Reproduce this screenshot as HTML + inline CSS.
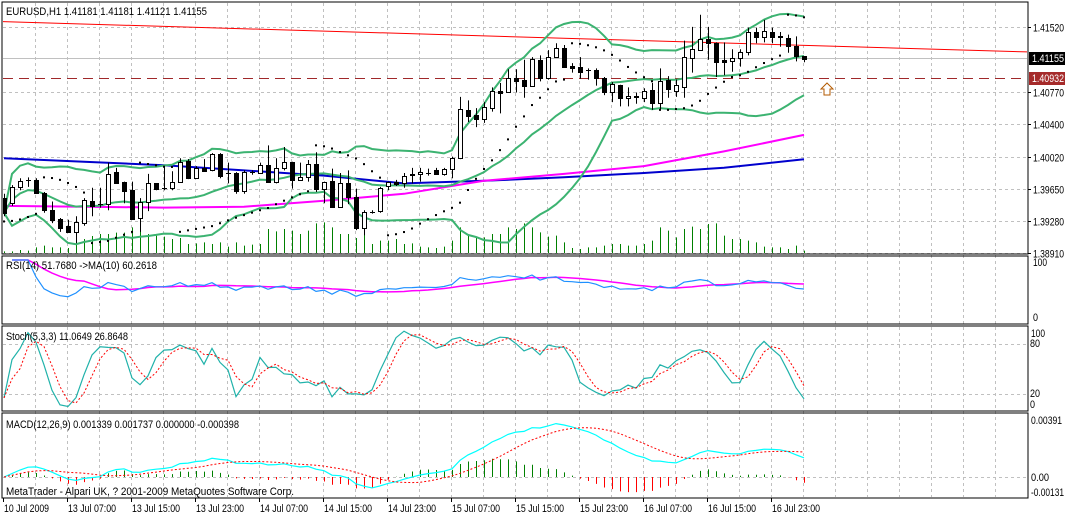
<!DOCTYPE html>
<html><head><meta charset="utf-8"><title>EURUSD,H1</title>
<style>
html,body{margin:0;padding:0;background:#fff;}
svg{display:block;font-family:"Liberation Sans",sans-serif;font-size:11px;}
</style></head>
<body>
<svg id="chart" width="1065" height="516" viewBox="0 0 1065 516" xmlns="http://www.w3.org/2000/svg">
<rect x="0" y="0" width="1065" height="516" fill="#fff"/>
<defs>
<clipPath id="cMain"><rect x="3" y="3" width="1024" height="250"/></clipPath>
<clipPath id="cRsi"><rect x="3" y="257" width="1024" height="66"/></clipPath>
<clipPath id="cSto"><rect x="3" y="327" width="1024" height="83"/></clipPath>
<clipPath id="cMacd"><rect x="3" y="414" width="1024" height="83"/></clipPath>
</defs>
<g id="grid"></g>
<g id="main" clip-path="url(#cMain)"></g>
<g id="rsi" clip-path="url(#cRsi)"></g>
<g id="sto" clip-path="url(#cSto)"></g>
<g id="macd" clip-path="url(#cMacd)"></g>
<g id="frame">
<rect x="2" y="2" width="1026" height="252" fill="none" stroke="#000"/>
<rect x="2" y="256" width="1026" height="68" fill="none" stroke="#000"/>
<rect x="2" y="326" width="1026" height="85" fill="none" stroke="#000"/>
<rect x="2" y="413" width="1026" height="85" fill="none" stroke="#000"/>
</g>
<g id="axes"></g>
<text x="6" y="15" textLength="201" lengthAdjust="spacingAndGlyphs">EURUSD,H1  1.41181 1.41181 1.41121 1.41155</text>
<text x="6" y="269" textLength="151" lengthAdjust="spacingAndGlyphs">RSI(14) 51.7680  -&gt;MA(10) 60.2618</text>
<text x="6" y="340" textLength="122" lengthAdjust="spacingAndGlyphs">Stoch(5,3,3) 11.0649 26.8648</text>
<text x="6" y="428" textLength="233" lengthAdjust="spacingAndGlyphs">MACD(12,26,9) 0.001339 0.001737 0.000000 -0.000398</text>
<text x="6" y="495" textLength="288" lengthAdjust="spacingAndGlyphs">MetaTrader - Alpari UK, ? 2001-2009 MetaQuotes Software Corp.</text>
<polygon points="827,83 833,89 830,89 830,95 824,95 824,89 821,89" fill="#fff" stroke="#b35a00"/>
</svg>
<script>
const opens=[1.3954,1.3948,1.3967,1.3975,1.3975,1.3960,1.3940,1.3930,1.3922,1.3915,
1.3925,1.3951,1.3947,1.3947,1.3984,1.3973,1.3963,1.3931,1.3950,1.3971,
1.3966,1.3966,1.3973,1.3997,1.3977,1.3989,1.3986,1.4005,1.3983,1.3983,
1.3962,1.3984,1.3983,1.3992,1.3973,1.3989,1.3996,1.3975,1.3978,1.3993,
1.3965,1.3974,1.3944,1.3971,1.3955,1.3919,1.3938,1.3939,1.3968,1.3973,
1.3971,1.3982,1.3982,1.3983,1.3986,1.3982,1.3988,1.4000,1.4056,1.4050,
1.4045,1.4058,1.4078,1.4077,1.4093,1.4091,1.4084,1.4114,1.4093,1.4117,
1.4128,1.4107,1.4106,1.4102,1.4102,1.4093,1.4077,1.4085,1.4070,1.4072,
1.4070,1.4079,1.4064,1.4091,1.4078,1.4082,1.4116,1.4125,1.4138,1.4133,
1.4114,1.4112,1.4116,1.4123,1.4146,1.4140,1.4146,1.4141,1.4139,1.4130,
1.4118];
const highs=[1.3959,1.3969,1.3977,1.3978,1.3977,1.3961,1.3950,1.3931,1.3929,1.3933,
1.3954,1.3966,1.3966,1.3995,1.3989,1.3973,1.3973,1.3954,1.3982,1.3971,
1.3990,1.3985,1.4000,1.3999,1.3991,1.3999,1.4006,1.4006,1.3995,1.3984,
1.3986,1.3986,1.3995,1.4015,1.4000,1.4013,1.3996,1.3995,1.3998,1.4007,
1.3973,1.3988,1.3983,1.3986,1.3965,1.3940,1.3940,1.3967,1.3973,1.3975,
1.3983,1.3989,1.3989,1.3988,1.3989,1.3989,1.4002,1.4071,1.4067,1.4058,
1.4065,1.4082,1.4087,1.4103,1.4103,1.4114,1.4117,1.4119,1.4125,1.4133,
1.4131,1.4110,1.4117,1.4104,1.4104,1.4094,1.4088,1.4085,1.4082,1.4076,
1.4081,1.4087,1.4104,1.4095,1.4091,1.4136,1.4152,1.4166,1.4152,1.4134,
1.4134,1.4126,1.4126,1.4151,1.4151,1.4160,1.4151,1.4146,1.4143,1.4141,
1.4118];
const lows=[1.3933,1.3945,1.3963,1.3967,1.3960,1.3937,1.3925,1.3915,1.3914,1.3902,
1.3922,1.3933,1.3943,1.3940,1.3971,1.3948,1.3929,1.3915,1.3939,1.3963,
1.3963,1.3963,1.3973,1.3976,1.3977,1.3985,1.3985,1.3977,1.3971,1.3959,
1.3959,1.3981,1.3983,1.3973,1.3971,1.3986,1.3965,1.3975,1.3973,1.3961,
1.3948,1.3944,1.3944,1.3947,1.3917,1.3911,1.3936,1.3937,1.3963,1.3968,
1.3966,1.3971,1.3973,1.3980,1.3981,1.3980,1.3977,1.3999,1.4042,1.4036,
1.4041,1.4054,1.4052,1.4076,1.4076,1.4070,1.4084,1.4089,1.4091,1.4117,
1.4106,1.4099,1.4092,1.4091,1.4084,1.4073,1.4065,1.4060,1.4060,1.4063,
1.4065,1.4056,1.4057,1.4070,1.4071,1.4070,1.4099,1.4124,1.4114,1.4094,
1.4096,1.4100,1.4106,1.4119,1.4133,1.4134,1.4133,1.4129,1.4122,1.4112,
1.4111];
const closes=[1.3937,1.3967,1.3974,1.3975,1.3960,1.3940,1.3929,1.3919,1.3915,1.3926,
1.3952,1.3945,1.3947,1.3982,1.3971,1.3962,1.3930,1.3950,1.3971,1.3965,
1.3966,1.3973,1.3996,1.3977,1.3989,1.3985,1.4005,1.3980,1.3983,1.3962,
1.3984,1.3984,1.3992,1.3973,1.3989,1.3996,1.3975,1.3978,1.3993,1.3965,
1.3973,1.3944,1.3971,1.3955,1.3919,1.3938,1.3938,1.3966,1.3973,1.3970,
1.3980,1.3981,1.3984,1.3983,1.3982,1.3988,1.4000,1.4057,1.4049,1.4045,
1.4059,1.4078,1.4076,1.4093,1.4089,1.4084,1.4115,1.4093,1.4117,1.4128,
1.4106,1.4104,1.4100,1.4102,1.4093,1.4077,1.4086,1.4070,1.4072,1.4071,
1.4078,1.4064,1.4089,1.4080,1.4085,1.4117,1.4126,1.4138,1.4133,1.4111,
1.4111,1.4116,1.4123,1.4146,1.4140,1.4147,1.4140,1.4140,1.4130,1.4118,
1.4115];
const volumes=[50,50,90,70,170,220,170,170,150,570,
420,510,570,570,610,610,770,690,570,520,
490,420,450,270,290,320,270,320,190,320,
220,250,270,720,650,720,670,570,670,890,
920,770,570,570,450,570,270,370,370,420,
270,290,190,170,150,190,370,770,570,450,
470,570,570,770,720,890,770,620,490,520,
320,150,120,170,170,220,270,270,220,220,
270,370,770,670,470,720,790,720,870,890,
520,420,420,370,320,190,170,170,120,220,
70];
const maBars=[0,10,20,30,40,50,60,70,80,90,100];
const maBlue=[1.4000,1.3996,1.3992,1.3986,1.3980,1.3971,1.3974,1.3978,1.3983,1.3989,1.3999];
const maMagenta=[1.3945,1.3944,1.3943,1.3944,1.3951,1.3959,1.3974,1.3982,1.3991,1.4008,1.4027];
const trendBars=[-0.2,127.9];
const trendPrices=[1.4158,1.4123];
const levelPrice=1.40932;
const bidPrice=1.41155;
const priceTicks=[1.41520,1.40770,1.40400,1.40020,1.39650,1.39280,1.38910];
const timeLabels=["10 Jul 2009","13 Jul 07:00","13 Jul 15:00","13 Jul 23:00","14 Jul 07:00","14 Jul 15:00","14 Jul 23:00","15 Jul 07:00","15 Jul 15:00","15 Jul 23:00","16 Jul 07:00","16 Jul 15:00","16 Jul 23:00"];
const timeLabelBars=[0,8,16,24,32,40,48,56,64,72,80,88,96];

const NS="http://www.w3.org/2000/svg";
function mk(parent,tag,attrs){const e=document.createElementNS(NS,tag);for(const k in attrs)e.setAttribute(k,attrs[k]);parent.appendChild(e);return e;}
const gGrid=document.getElementById('grid'),gMain=document.getElementById('main'),gRsi=document.getElementById('rsi'),gSto=document.getElementById('sto'),gMacd=document.getElementById('macd'),gAx=document.getElementById('axes');
function px(i){return 4+8*i;}
function py(p){return (1.4183-p)/0.0001156;}
function rsiY(v){return 320-v*0.6;}
function stoY(v){return 410.7-v*0.8333;}
function macdY(v){return 477-v*14578;}
const N=closes.length;
function pts(arr,fy,start){let s=[];for(let i=start||0;i<arr.length;i++){if(arr[i]==null)continue;s.push(px(i)+','+fy(arr[i]).toFixed(1));}return s.join(' ');}
function fit(t,len){t.setAttribute('textLength',len);t.setAttribute('lengthAdjust','spacingAndGlyphs');}

// grid
for(let i=4;i<128;i+=4){const x=px(i)-1;if(x>1027)break;
 const l=mk(gGrid,'line',{x1:x+0.5,y1:3,x2:x+0.5,y2:497,stroke:'#c0c0c0','stroke-dasharray':'3,3'});
 
 }
priceTicks.forEach(p=>{const y=Math.round(py(p))+0.5;
 const l=mk(gGrid,'line',{x1:3,y1:y,x2:1027,y2:y,stroke:'#c0c0c0','stroke-dasharray':'3,3'});
 
 
 const t=mk(gAx,'text',{x:1033,y:y+4});t.textContent=p.toFixed(5);fit(t,31);
 
 
 const tk=mk(gAx,'line',{x1:1028,y1:y,x2:1031,y2:y,stroke:'#000'});
 
 });
[80,20].forEach(v=>{const y=Math.round(stoY(v))+0.5;
 const l=mk(gGrid,'line',{x1:3,y1:y,x2:1027,y2:y,stroke:'#c0c0c0','stroke-dasharray':'3,3'});
 
 });
{const l=mk(gGrid,'line',{x1:3,y1:477.5,x2:1027,y2:477.5,stroke:'#c0c0c0','stroke-dasharray':'3,3'});
 
 }
{const y=Math.round(py(bidPrice))+0.5;const l=mk(gGrid,'line',{x1:3,y1:y,x2:1027,y2:y,stroke:'#c0c0c0'});
 
 }

// volumes
for(let i=0;i<N;i++){const x=px(i)+0.5;
 const l=mk(gMain,'line',{x1:x,y1:253,x2:x,y2:253-volumes[i]/30,stroke:'#008000'});
 
 }

{const y=Math.round(py(levelPrice))+0.5;const l=mk(gMain,'line',{x1:3,y1:y,x2:1027,y2:y,stroke:'#a0282a','stroke-dasharray':'10,6'});
 
 }
{const l=mk(gMain,'line',{x1:px(trendBars[0]),y1:py(trendPrices[0]),x2:px(trendBars[1]),y2:py(trendPrices[1]),stroke:'#ff0000'});
 
 }
{const s=maBars.map((b,k)=>px(b)+','+py(maBlue[k]).toFixed(1)).join(' ');
 const l=mk(gMain,'polyline',{points:s,fill:'none',stroke:'#0000cd','stroke-width':2});
 
 }
{const s=maBars.map((b,k)=>px(b)+','+py(maMagenta[k]).toFixed(1)).join(' ');
 const l=mk(gMain,'polyline',{points:s,fill:'none',stroke:'#ff00ff','stroke-width':2});
 
 }
const bbU=[],bbM=[],bbL=[];
for(let i=0;i<N;i++){const w=closes.slice(Math.max(0,i-19),i+1);const m=w.reduce((a,b)=>a+b,0)/w.length;
 const sd=Math.sqrt(w.reduce((a,b)=>a+(b-m)*(b-m),0)/w.length);bbM.push(m);bbU.push(m+2*sd);bbL.push(m-2*sd);}
[[bbU,'bollinger-upper'],[bbM,'bollinger-middle'],[bbL,'bollinger-lower']].forEach(([a,n])=>{
 const l=mk(gMain,'polyline',{points:pts(a,py),fill:'none',stroke:'#3cb371','stroke-width':2});
 
 });
{let up=true,sar=lows[0]-0.0006,ep=highs[0],af=0.02;const sars=[sar];
 for(let i=1;i<N;i++){sar=sar+af*(ep-sar);
  if(up){sar=Math.min(sar,lows[i-1],lows[Math.max(0,i-2)]);
   if(lows[i]<sar){up=false;sar=ep;ep=lows[i];af=0.02;}else if(highs[i]>ep){ep=highs[i];af=Math.min(af+0.02,0.2);}}
  else{sar=Math.max(sar,highs[i-1],highs[Math.max(0,i-2)]);
   if(highs[i]>sar){up=true;sar=ep;ep=highs[i];af=0.02;}else if(lows[i]<ep){ep=lows[i];af=Math.min(af+0.02,0.2);}}
  sars.push(sar);}
 sars.forEach((s,i)=>{const d=mk(gMain,'rect',{x:px(i)-1,y:py(s)-1,width:2,height:2,fill:'#000'});
  
  });}
for(let i=0;i<N;i++){const x=px(i);const o=opens[i],c=closes[i];
 const w=mk(gMain,'line',{x1:x+0.5,y1:py(highs[i]),x2:x+0.5,y2:py(lows[i]),stroke:'#000'});
 
 
 const top=Math.round(py(Math.max(o,c))),bot=Math.round(py(Math.min(o,c)));
 let b;
 if(bot-top<1){b=mk(gMain,'line',{x1:x-2,y1:top+0.5,x2:x+3,y2:top+0.5,stroke:'#000'});}
 else if(c>=o){b=mk(gMain,'rect',{x:x-1.5,y:top+0.5,width:4,height:bot-top,fill:'#fff',stroke:'#000'});}
 else{b=mk(gMain,'rect',{x:x-2,y:top,width:5,height:bot-top+1,fill:'#000'});}
 
 }

const rsi=[null];{let ag=0,al=0;
 for(let i=1;i<N;i++){const d=closes[i]-closes[i-1];const g=Math.max(d,0),l=Math.max(-d,0);const n=Math.min(i,14);
  ag=(ag*(n-1)+g)/n;al=(al*(n-1)+l)/n;rsi.push(al===0?100:100-100/(1+ag/al));}}
const rsiMa=rsi.map((v,i)=>{if(i<1)return null;const w=rsi.slice(Math.max(1,i-9),i+1);return w.reduce((a,b)=>a+b,0)/w.length;});
{const l=mk(gRsi,'polyline',{points:pts(rsiMa,rsiY,1),fill:'none',stroke:'#ff00ff','stroke-width':1.5});
 
 }
{const l=mk(gRsi,'polyline',{points:pts(rsi,rsiY,1),fill:'none',stroke:'#1e90ff','stroke-width':1.2});
 
 }

const stK=[],stD=[];
{const num=[],den=[];for(let i=0;i<N;i++){const a=Math.max(0,i-4);const hh=Math.max(...highs.slice(a,i+1)),ll=Math.min(...lows.slice(a,i+1));num.push(closes[i]-ll);den.push(hh-ll);}
 for(let i=0;i<N;i++){const a=Math.max(0,i-2);let sn=0,sd=0;for(let j=a;j<=i;j++){sn+=num[j];sd+=den[j];}stK.push(sd===0?50:100*sn/sd);}
 for(let i=0;i<N;i++){const w=stK.slice(Math.max(0,i-2),i+1);stD.push(w.reduce((a,b)=>a+b,0)/w.length);}}
{const l=mk(gSto,'polyline',{points:pts(stK,stoY),fill:'none',stroke:'#20b2aa','stroke-width':1.2});
 
 }
{const l=mk(gSto,'polyline',{points:pts(stD,stoY),fill:'none',stroke:'#ff0000','stroke-dasharray':'2,2'});
 
 }

const macd=[],sig=[];
{let e12=closes[0],e26=closes[0];for(let i=0;i<N;i++){e12=e12+(2/13)*(closes[i]-e12);e26=e26+(2/27)*(closes[i]-e26);macd.push(e12-e26);}
 for(let i=0;i<N;i++){const w=macd.slice(Math.max(0,i-8),i+1);sig.push(w.reduce((a,b)=>a+b,0)/w.length);}}
for(let i=0;i<N;i++){const h=macd[i]-sig[i];const x=px(i)+0.5;
 const l=mk(gMacd,'line',{x1:x,y1:477,x2:x,y2:macdY(h),stroke:h>=0?'#008000':'#ff0000'});
 
 }
{const l=mk(gMacd,'polyline',{points:pts(macd,macdY),fill:'none',stroke:'#00ffff','stroke-width':1.2});
 
 }
{const l=mk(gMacd,'polyline',{points:pts(sig,macdY),fill:'none',stroke:'#ff0000','stroke-dasharray':'2,2'});
 
 }

[[1033,266,'100','rsi-max-label',14],[1033,321,'0','rsi-min-label',5],[1031,337,'100','stoch-max-label',14],[1030,347,'80','stoch-80-label',10],[1030,397,'20','stoch-20-label',10],[1030,408,'0','stoch-min-label',5],[1031,424,'0.00391','macd-max-label',31],[1031,481,'0.00','macd-zero-label',18],[1031,496,'-0.00131','macd-min-label',33]].forEach(a=>{
 const t=mk(gAx,'text',{x:a[0],y:a[1]});t.textContent=a[2];fit(t,a[4]);
 
 });
{const y=Math.round(py(bidPrice));const r=mk(gAx,'rect',{x:1029,y:y-6,width:36,height:13,fill:'#000'});
 
 
 const t=mk(gAx,'text',{x:1032,y:y+4,fill:'#fff'});t.textContent=bidPrice.toFixed(5);fit(t,32);
 
 }
{const y=Math.round(py(levelPrice));const r=mk(gAx,'rect',{x:1029,y:y-6,width:36,height:13,fill:'#a52a2a'});
 
 
 const t=mk(gAx,'text',{x:1032,y:y+4,fill:'#fff'});t.textContent=levelPrice.toFixed(5);fit(t,32);
 
 }
timeLabels.forEach((s,k)=>{const x=k===0?3:px(timeLabelBars[k])-1;
 const tk=mk(gAx,'line',{x1:x+0.5,y1:498,x2:x+0.5,y2:502,stroke:'#000'});
 
 
 const t=mk(gAx,'text',{x:x+1,y:512});t.textContent=s;fit(t,k===0?45:48);
 
 });
</script>
</body></html>
